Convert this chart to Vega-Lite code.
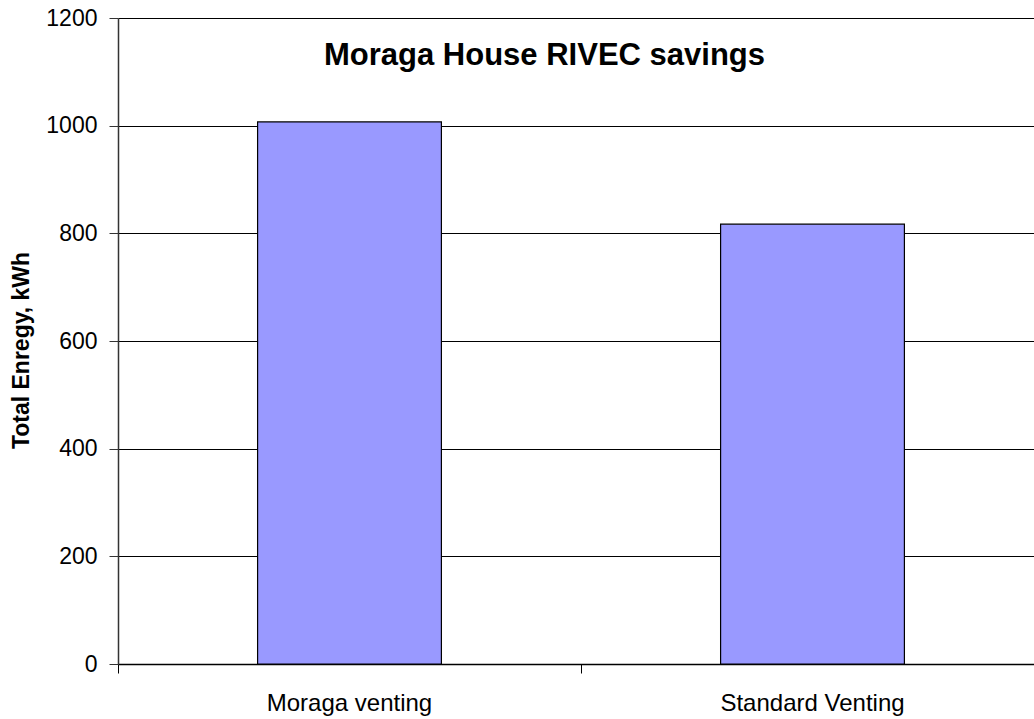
{
  "$schema": "https://vega.github.io/schema/vega-lite/v6.json",
  "autosize": "none",
  "width": 916,
  "height": 646,
  "padding": {"left": 118, "top": 18, "right": 0, "bottom": 55},
  "background": "white",
  "config": {
    "font": "Liberation Sans",
    "view": {"stroke": null}
  },
  "title": {
    "text": "Moraga House RIVEC savings",
    "anchor": "start",
    "frame": "group",
    "font": "Liberation Sans",
    "fontSize": 31,
    "fontWeight": "bold",
    "color": "black",
    "baseline": "alphabetic",
    "offset": 0,
    "dx": 206,
    "dy": 89
  },
  "data": {
    "values": [
      {"case": "Moraga venting", "energy": 1007},
      {"case": "Standard Venting", "energy": 817}
    ]
  },
  "mark": {"type": "bar", "color": "#9999FF", "stroke": "black", "strokeWidth": 1.2, "width": {"band": 0.397}},
  "encoding": {
    "x": {
      "field": "case",
      "type": "nominal",
      "sort": null,
      "scale": {"range": [0, 926], "paddingInner": 0, "paddingOuter": 0},
      "axis": {
        "title": null,
        "labelAngle": 0,
        "bandPosition": 0,
        "labelFontSize": 24,
        "labelColor": "black",
        "labelPadding": 18,
        "labelLimit": 0,
        "tickSize": 9,
        "tickColor": "black",
        "domainColor": "black",
        "domainWidth": 1.3,
        "grid": false
      }
    },
    "y": {
      "field": "energy",
      "type": "quantitative",
      "scale": {"domain": [0, 1200], "nice": false},
      "axis": {
        "title": "Total Enregy, kWh",
        "titleFontSize": 23,
        "titleFontWeight": "bold",
        "titleColor": "black",
        "titleAngle": 270,
        "titleAlign": "center",
        "titleBaseline": "alphabetic",
        "titleX": -90,
        "titleY": 332,
        "values": [0, 200, 400, 600, 800, 1000, 1200],
        "format": "d",
        "labelFontSize": 23,
        "labelColor": "black",
        "labelPadding": 12,
        "tickSize": 9,
        "tickColor": "#333333",
        "domainColor": "#333333",
        "domainWidth": 1.5,
        "grid": true,
        "gridColor": "black",
        "gridWidth": 1,
        "gridOpacity": 1
      }
    }
  }
}
